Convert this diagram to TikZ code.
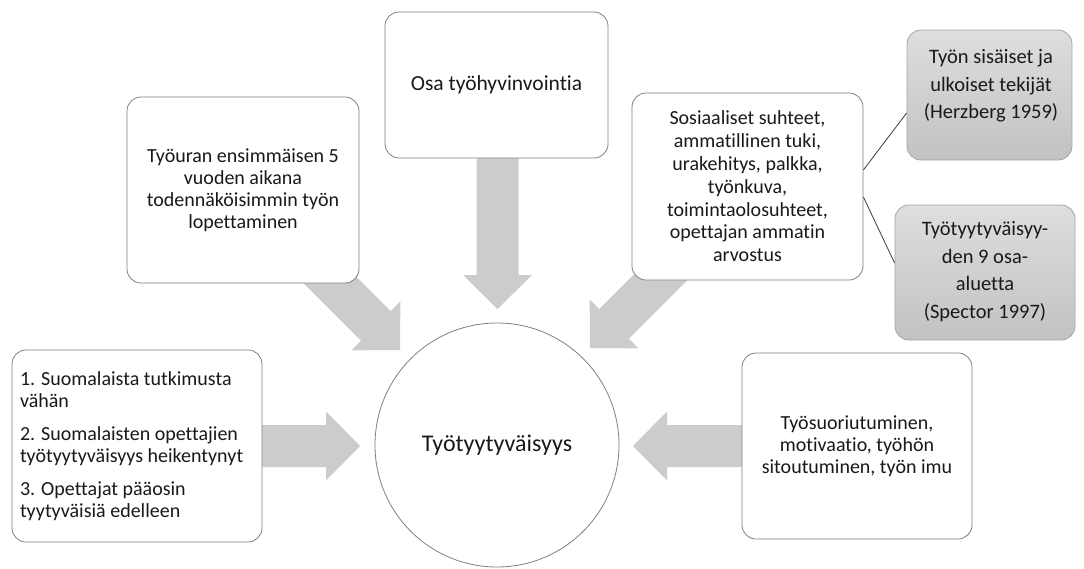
\documentclass[tikz,border=0pt]{standalone}
\usepackage{fontspec}
\setmainfont[Ligatures={CommonOff,ContextualOff,RareOff}]{Carlito}
\usetikzlibrary{calc}
\pgfdeclarelayer{background}
\pgfsetlayers{background,main}
\definecolor{arrowfill}{RGB}{204,204,204}
\definecolor{boxline}{RGB}{128,128,128}
\definecolor{grayline}{RGB}{165,165,165}
\definecolor{graytop}{RGB}{222,222,222}
\definecolor{graybot}{RGB}{194,194,194}
\definecolor{linkline}{RGB}{60,60,60}
\definecolor{txt}{RGB}{25,25,25}
\newcommand\blockarrow[2]{%
  \coordinate (bam) at ($(#2)!34pt!(#1)$);
  \fill[arrowfill] ($(#1)!21pt!90:(#2)$) -- ($(bam)!21pt!90:(#2)$) -- ($(bam)!34.5pt!90:(#2)$) -- (#2) -- ($(bam)!34.5pt!-90:(#2)$) -- ($(bam)!21pt!-90:(#2)$) -- ($(#1)!21pt!-90:(#2)$) -- cycle;}
\tikzset{
  wbox/.style={draw=boxline, line width=0.8pt, fill=white, rounded corners=14pt, inner sep=0pt, align=center, text=txt, font=\fontsize{20}{22}\selectfont},
  gbox/.style={draw=grayline, line width=0.8pt, rounded corners=14pt, top color=graytop, bottom color=graybot, inner sep=0pt},
  gtext/.style={align=center, text=txt, inner sep=0pt, font=\fontsize{20.5}{27.5}\selectfont},
  link/.style={draw=linkline, line width=0.8pt},
  hub/.style={circle, draw=boxline, line width=0.8pt, fill=white, inner sep=0pt, minimum size=244pt, text=txt, font=\fontsize{24}{28}\selectfont}
}
\begin{document}
\begin{tikzpicture}[x=1pt, y=-1pt]
\useasboundingbox (0,0) rectangle (1084,568);

\node[wbox, minimum width=223pt, minimum height=146pt, font=\fontsize{21.5}{24}\selectfont] (top) at (496.5,85) {Osa työhyvinvointia};
\node[wbox, minimum width=232pt, minimum height=186pt] (tl) at (243,190) {Työuran ensimmäisen 5\\vuoden aikana\\todennäköisimmin työn\\lopettaminen};
\node[wbox, minimum width=231pt, minimum height=187pt, font=\fontsize{20}{22.8}\selectfont] (tr) at (747.5,186.5) {Sosiaaliset suhteet,\\ammatillinen tuki,\\urakehitys, palkka,\\työnkuva,\\toimintaolosuhteet,\\opettajan ammatin\\arvostus};
\node[wbox, minimum width=250pt, minimum height=192pt, align=flush left, text width=234pt] (bl) at (137,446) {1. Suomalaista tutkimusta\\vähän\\[11pt]2. Suomalaisten opettajien\\työtyytyväisyys heikentynyt\\[11pt]3. Opettajat pääosin\\tyytyväisiä edelleen};
\node[wbox, minimum width=230pt, minimum height=186pt] (br) at (857,446) {Työsuoriutuminen,\\motivaatio, työhön\\sitoutuminen, työn imu};
\node[hub] (c) at (497,445) {Työtyytyväisyys};

\node[gbox, minimum width=165pt, minimum height=130pt] (g1) at (989.5,95) {};
\node[gtext] (g1t) at (991,86) {Työn sisäiset ja\\ulkoiset tekijät\\(Herzberg 1959)};
\node[gbox, minimum width=180pt, minimum height=135pt] (g2) at (985,272.5) {};
\node[gtext] (g2t) at (985,271.5) {Työtyytyväisyy-\\den 9 osa-\\aluetta\\(Spector 1997)};

\draw[link] ([yshift=16.5pt]tr.east) -- ([yshift=-18pt]g1.west);
\draw[link] ([yshift=-10.5pt]tr.east) -- ([yshift=9.5pt]g2.west);

\begin{pgfonlayer}{background}
\fill[white] (0,0) rectangle (1084,568);
\coordinate (a1s) at (497.5,140); \coordinate (a1t) at (497.5,309);
\coordinate (a2s) at (298,248);   \coordinate (a2t) at (400,350);
\coordinate (a3s) at (692,246);   \coordinate (a3t) at (590,348);
\coordinate (a4s) at (250,446);   \coordinate (a4t) at (360,446);
\coordinate (a5s) at (750,446);   \coordinate (a5t) at (633,446);
\blockarrow{a1s}{a1t}
\blockarrow{a2s}{a2t}
\blockarrow{a3s}{a3t}
\blockarrow{a4s}{a4t}
\blockarrow{a5s}{a5t}
\end{pgfonlayer}
\end{tikzpicture}
\end{document}
